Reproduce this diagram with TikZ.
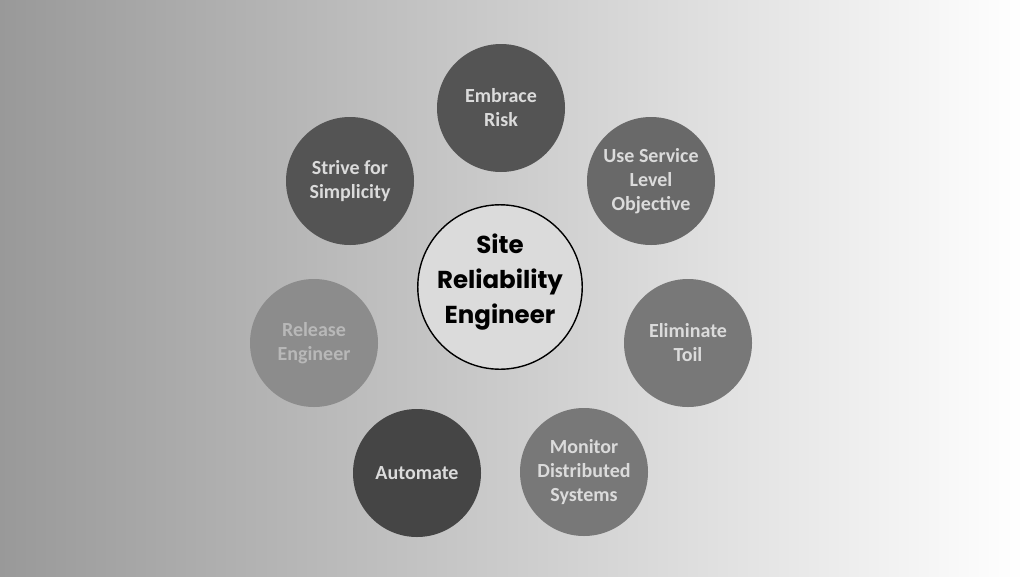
\documentclass[tikz,border=0pt]{standalone}
\usepackage{fontspec}
\setmainfont{Carlito}
\newfontfamily\hubfont{Poppins}
\begin{document}
\begin{tikzpicture}[x=1pt,y=-1pt,
  pillar/.style={circle,minimum size=128pt,inner sep=0pt,align=center,
    font=\fontsize{20}{24}\selectfont\bfseries,text=white!86!black},
  hub/.style={circle,draw=black,line width=1.4pt,fill=white!86!black,
    minimum size=164pt,inner sep=0pt,align=center,
    font=\hubfont\fontsize{24.5}{35}\selectfont\bfseries}]
\shade[left color=black!40,right color=white] (0,0) rectangle (1024,576);
\useasboundingbox (0,0) rectangle (1024,576);
\node[hub] (sre) at (500,287) {Site\\Reliability\\Engineer\\[-19pt]\mbox{}};
\node[pillar,fill=black!67] (risk) at (501,108) {Embrace\\Risk};
\node[pillar,fill=black!59] (slo) at (651,181) {Use Service\\Level\\Objective};
\node[pillar,fill=black!53] (toil) at (688,343) {Eliminate\\Toil};
\node[pillar,fill=black!53] (monitor) at (584,472) {Monitor\\Distributed\\Systems};
\node[pillar,fill=black!73] (automate) at (417,473) {Automate};
\node[pillar,fill=black!45,text=white!72!black] (release) at (314,343) {Release\\Engineer};
\node[pillar,fill=black!67] (simple) at (350,181) {Strive for\\Simplicity};
\end{tikzpicture}
\end{document}
